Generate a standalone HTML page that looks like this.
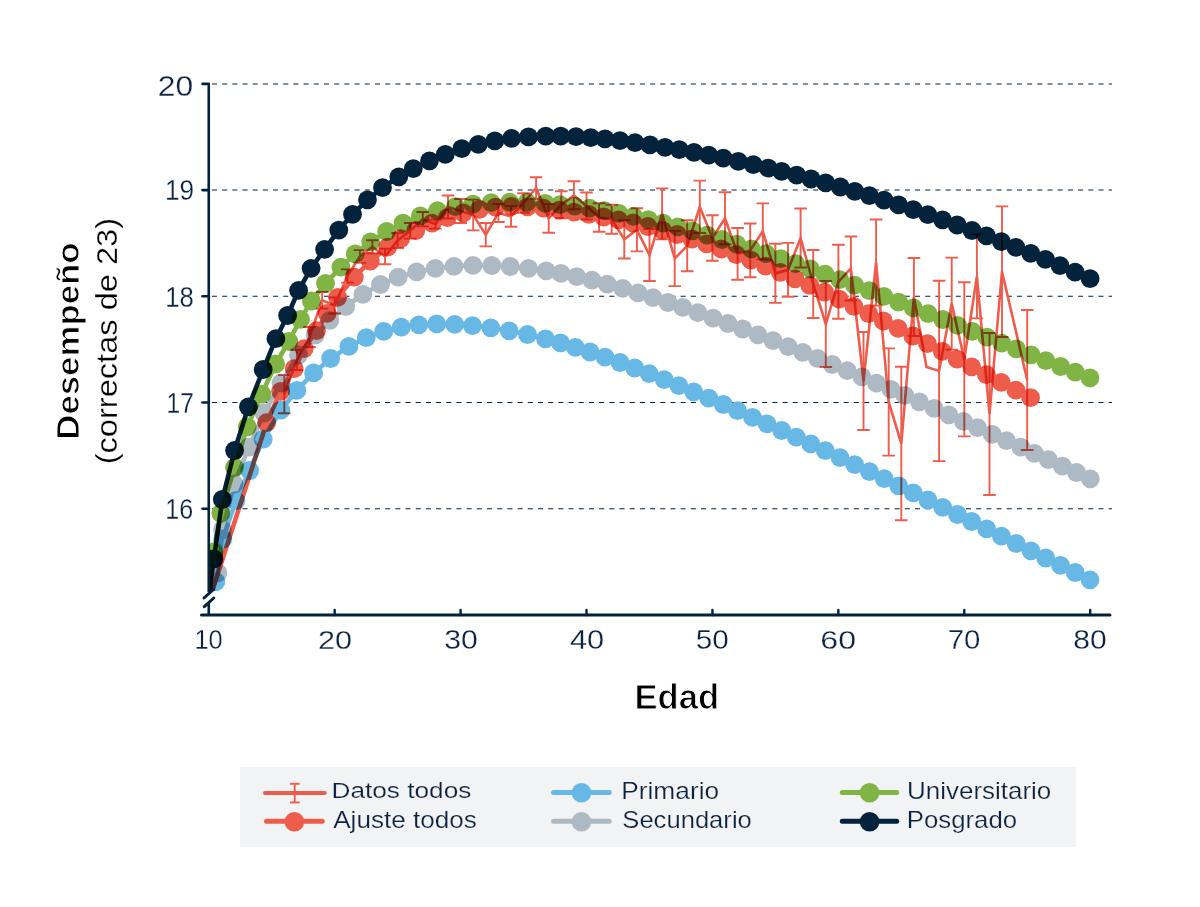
<!DOCTYPE html><html><head><meta charset="utf-8"><style>html,body{margin:0;padding:0;background:#fff;}svg{display:block;}text{font-family:"Liberation Sans",sans-serif;}.m{mix-blend-mode:multiply;}</style></head><body>
<svg width="1200" height="907" viewBox="0 0 1200 907">
<rect width="1200" height="907" fill="#fff"/>
<line x1="211.9" y1="84.00" x2="1112" y2="84.00" stroke="#03223c" stroke-width="1.05" stroke-dasharray="5.05 5.14"/>
<line x1="211.9" y1="190.00" x2="1112" y2="190.00" stroke="#03223c" stroke-width="1.05" stroke-dasharray="5.05 5.14"/>
<line x1="211.9" y1="296.25" x2="1112" y2="296.25" stroke="#03223c" stroke-width="1.05" stroke-dasharray="5.05 5.14"/>
<line x1="211.9" y1="402.50" x2="1112" y2="402.50" stroke="#03223c" stroke-width="1.05" stroke-dasharray="5.05 5.14"/>
<line x1="211.9" y1="508.70" x2="1112" y2="508.70" stroke="#03223c" stroke-width="1.05" stroke-dasharray="5.05 5.14"/>
<defs><clipPath id="pc"><rect x="210" y="0" width="990" height="591"/></clipPath></defs>
<g clip-path="url(#pc)">
<g class="m">
<polyline fill="none" stroke="#adb9c3" stroke-width="4.6" stroke-linejoin="round" points="208.8,600.0 217.9,572.8 222.5,530.0 234.0,484.0 249.0,447.0 264.0,413.0 281.0,383.0 298.5,355.0 315.2,335.2 329.8,320.4 345.7,306.5 362.9,294.3 380.5,284.5 398.2,277.2 416.6,271.9 435.3,268.3 454.0,266.3 473.0,265.4 491.8,265.5 510.2,266.5 528.5,268.4 546.2,270.9 561.0,273.4 576.7,276.6 592.0,280.2 607.3,284.1 622.7,288.4 638.0,292.9 653.0,297.6 668.0,302.5 682.8,307.4 697.8,312.7 713.0,318.1 728.0,323.5 742.7,329.0 757.9,334.8 773.0,340.6 788.2,346.6 802.8,352.4 817.5,358.4 832.2,364.5 847.2,370.7 861.9,376.9 876.5,383.2 891.0,389.4 904.8,395.4 919.4,401.8 934.1,408.3 948.8,414.8 963.4,421.3 977.5,427.7 992.2,434.3 1006.5,440.7 1020.8,447.2 1034.4,453.4 1048.3,459.7 1062.4,466.1 1076.5,472.5 1090.3,478.8"/>
<circle cx="217.9" cy="572.8" r="9.4" fill="#adb9c3"/>
<circle cx="222.5" cy="530.0" r="9.4" fill="#adb9c3"/>
<circle cx="234.0" cy="484.0" r="9.4" fill="#adb9c3"/>
<circle cx="249.0" cy="447.0" r="9.4" fill="#adb9c3"/>
<circle cx="264.0" cy="413.0" r="9.4" fill="#adb9c3"/>
<circle cx="281.0" cy="383.0" r="9.4" fill="#adb9c3"/>
<circle cx="298.5" cy="355.0" r="9.4" fill="#adb9c3"/>
<circle cx="315.2" cy="335.2" r="9.4" fill="#adb9c3"/>
<circle cx="329.8" cy="320.4" r="9.4" fill="#adb9c3"/>
<circle cx="345.7" cy="306.5" r="9.4" fill="#adb9c3"/>
<circle cx="362.9" cy="294.3" r="9.4" fill="#adb9c3"/>
<circle cx="380.5" cy="284.5" r="9.4" fill="#adb9c3"/>
<circle cx="398.2" cy="277.2" r="9.4" fill="#adb9c3"/>
<circle cx="416.6" cy="271.9" r="9.4" fill="#adb9c3"/>
<circle cx="435.3" cy="268.3" r="9.4" fill="#adb9c3"/>
<circle cx="454.0" cy="266.3" r="9.4" fill="#adb9c3"/>
<circle cx="473.0" cy="265.4" r="9.4" fill="#adb9c3"/>
<circle cx="491.8" cy="265.5" r="9.4" fill="#adb9c3"/>
<circle cx="510.2" cy="266.5" r="9.4" fill="#adb9c3"/>
<circle cx="528.5" cy="268.4" r="9.4" fill="#adb9c3"/>
<circle cx="546.2" cy="270.9" r="9.4" fill="#adb9c3"/>
<circle cx="561.0" cy="273.4" r="9.4" fill="#adb9c3"/>
<circle cx="576.7" cy="276.6" r="9.4" fill="#adb9c3"/>
<circle cx="592.0" cy="280.2" r="9.4" fill="#adb9c3"/>
<circle cx="607.3" cy="284.1" r="9.4" fill="#adb9c3"/>
<circle cx="622.7" cy="288.4" r="9.4" fill="#adb9c3"/>
<circle cx="638.0" cy="292.9" r="9.4" fill="#adb9c3"/>
<circle cx="653.0" cy="297.6" r="9.4" fill="#adb9c3"/>
<circle cx="668.0" cy="302.5" r="9.4" fill="#adb9c3"/>
<circle cx="682.8" cy="307.4" r="9.4" fill="#adb9c3"/>
<circle cx="697.8" cy="312.7" r="9.4" fill="#adb9c3"/>
<circle cx="713.0" cy="318.1" r="9.4" fill="#adb9c3"/>
<circle cx="728.0" cy="323.5" r="9.4" fill="#adb9c3"/>
<circle cx="742.7" cy="329.0" r="9.4" fill="#adb9c3"/>
<circle cx="757.9" cy="334.8" r="9.4" fill="#adb9c3"/>
<circle cx="773.0" cy="340.6" r="9.4" fill="#adb9c3"/>
<circle cx="788.2" cy="346.6" r="9.4" fill="#adb9c3"/>
<circle cx="802.8" cy="352.4" r="9.4" fill="#adb9c3"/>
<circle cx="817.5" cy="358.4" r="9.4" fill="#adb9c3"/>
<circle cx="832.2" cy="364.5" r="9.4" fill="#adb9c3"/>
<circle cx="847.2" cy="370.7" r="9.4" fill="#adb9c3"/>
<circle cx="861.9" cy="376.9" r="9.4" fill="#adb9c3"/>
<circle cx="876.5" cy="383.2" r="9.4" fill="#adb9c3"/>
<circle cx="891.0" cy="389.4" r="9.4" fill="#adb9c3"/>
<circle cx="904.8" cy="395.4" r="9.4" fill="#adb9c3"/>
<circle cx="919.4" cy="401.8" r="9.4" fill="#adb9c3"/>
<circle cx="934.1" cy="408.3" r="9.4" fill="#adb9c3"/>
<circle cx="948.8" cy="414.8" r="9.4" fill="#adb9c3"/>
<circle cx="963.4" cy="421.3" r="9.4" fill="#adb9c3"/>
<circle cx="977.5" cy="427.7" r="9.4" fill="#adb9c3"/>
<circle cx="992.2" cy="434.3" r="9.4" fill="#adb9c3"/>
<circle cx="1006.5" cy="440.7" r="9.4" fill="#adb9c3"/>
<circle cx="1020.8" cy="447.2" r="9.4" fill="#adb9c3"/>
<circle cx="1034.4" cy="453.4" r="9.4" fill="#adb9c3"/>
<circle cx="1048.3" cy="459.7" r="9.4" fill="#adb9c3"/>
<circle cx="1062.4" cy="466.1" r="9.4" fill="#adb9c3"/>
<circle cx="1076.5" cy="472.5" r="9.4" fill="#adb9c3"/>
<circle cx="1090.3" cy="478.8" r="9.4" fill="#adb9c3"/>
</g>
<g class="m">
<polyline fill="none" stroke="#68b8e6" stroke-width="4.6" stroke-linejoin="round" points="208.8,606.0 215.9,581.7 222.8,539.0 235.9,500.6 249.6,470.5 263.2,439.2 280.8,410.2 296.8,390.3 313.6,372.9 330.6,358.5 348.9,346.4 366.3,337.7 383.7,331.4 401.3,327.2 418.8,324.8 436.7,323.9 454.7,324.3 472.5,325.6 490.8,327.8 509.2,330.8 527.5,334.5 545.5,338.9 560.5,342.9 575.3,347.3 590.0,352.0 605.0,357.1 620.0,362.5 634.7,368.0 649.2,373.6 664.2,379.6 678.8,385.6 693.7,391.8 708.7,398.2 723.3,404.5 737.5,410.7 752.5,417.3 767.0,423.8 781.7,430.5 796.3,437.2 810.8,443.9 825.3,450.7 840.0,457.6 854.7,464.6 869.5,471.7 884.2,478.7 898.7,485.8 913.3,492.9 927.9,500.0 942.7,507.3 957.5,514.5 971.7,521.5 986.7,528.9 1001.4,536.2 1016.2,543.5 1031.0,550.8 1045.7,558.0 1060.5,565.3 1075.2,572.5 1090.0,579.8"/>
<circle cx="215.9" cy="581.7" r="9.4" fill="#68b8e6"/>
<circle cx="222.8" cy="539.0" r="9.4" fill="#68b8e6"/>
<circle cx="235.9" cy="500.6" r="9.4" fill="#68b8e6"/>
<circle cx="249.6" cy="470.5" r="9.4" fill="#68b8e6"/>
<circle cx="263.2" cy="439.2" r="9.4" fill="#68b8e6"/>
<circle cx="280.8" cy="410.2" r="9.4" fill="#68b8e6"/>
<circle cx="296.8" cy="390.3" r="9.4" fill="#68b8e6"/>
<circle cx="313.6" cy="372.9" r="9.4" fill="#68b8e6"/>
<circle cx="330.6" cy="358.5" r="9.4" fill="#68b8e6"/>
<circle cx="348.9" cy="346.4" r="9.4" fill="#68b8e6"/>
<circle cx="366.3" cy="337.7" r="9.4" fill="#68b8e6"/>
<circle cx="383.7" cy="331.4" r="9.4" fill="#68b8e6"/>
<circle cx="401.3" cy="327.2" r="9.4" fill="#68b8e6"/>
<circle cx="418.8" cy="324.8" r="9.4" fill="#68b8e6"/>
<circle cx="436.7" cy="323.9" r="9.4" fill="#68b8e6"/>
<circle cx="454.7" cy="324.3" r="9.4" fill="#68b8e6"/>
<circle cx="472.5" cy="325.6" r="9.4" fill="#68b8e6"/>
<circle cx="490.8" cy="327.8" r="9.4" fill="#68b8e6"/>
<circle cx="509.2" cy="330.8" r="9.4" fill="#68b8e6"/>
<circle cx="527.5" cy="334.5" r="9.4" fill="#68b8e6"/>
<circle cx="545.5" cy="338.9" r="9.4" fill="#68b8e6"/>
<circle cx="560.5" cy="342.9" r="9.4" fill="#68b8e6"/>
<circle cx="575.3" cy="347.3" r="9.4" fill="#68b8e6"/>
<circle cx="590.0" cy="352.0" r="9.4" fill="#68b8e6"/>
<circle cx="605.0" cy="357.1" r="9.4" fill="#68b8e6"/>
<circle cx="620.0" cy="362.5" r="9.4" fill="#68b8e6"/>
<circle cx="634.7" cy="368.0" r="9.4" fill="#68b8e6"/>
<circle cx="649.2" cy="373.6" r="9.4" fill="#68b8e6"/>
<circle cx="664.2" cy="379.6" r="9.4" fill="#68b8e6"/>
<circle cx="678.8" cy="385.6" r="9.4" fill="#68b8e6"/>
<circle cx="693.7" cy="391.8" r="9.4" fill="#68b8e6"/>
<circle cx="708.7" cy="398.2" r="9.4" fill="#68b8e6"/>
<circle cx="723.3" cy="404.5" r="9.4" fill="#68b8e6"/>
<circle cx="737.5" cy="410.7" r="9.4" fill="#68b8e6"/>
<circle cx="752.5" cy="417.3" r="9.4" fill="#68b8e6"/>
<circle cx="767.0" cy="423.8" r="9.4" fill="#68b8e6"/>
<circle cx="781.7" cy="430.5" r="9.4" fill="#68b8e6"/>
<circle cx="796.3" cy="437.2" r="9.4" fill="#68b8e6"/>
<circle cx="810.8" cy="443.9" r="9.4" fill="#68b8e6"/>
<circle cx="825.3" cy="450.7" r="9.4" fill="#68b8e6"/>
<circle cx="840.0" cy="457.6" r="9.4" fill="#68b8e6"/>
<circle cx="854.7" cy="464.6" r="9.4" fill="#68b8e6"/>
<circle cx="869.5" cy="471.7" r="9.4" fill="#68b8e6"/>
<circle cx="884.2" cy="478.7" r="9.4" fill="#68b8e6"/>
<circle cx="898.7" cy="485.8" r="9.4" fill="#68b8e6"/>
<circle cx="913.3" cy="492.9" r="9.4" fill="#68b8e6"/>
<circle cx="927.9" cy="500.0" r="9.4" fill="#68b8e6"/>
<circle cx="942.7" cy="507.3" r="9.4" fill="#68b8e6"/>
<circle cx="957.5" cy="514.5" r="9.4" fill="#68b8e6"/>
<circle cx="971.7" cy="521.5" r="9.4" fill="#68b8e6"/>
<circle cx="986.7" cy="528.9" r="9.4" fill="#68b8e6"/>
<circle cx="1001.4" cy="536.2" r="9.4" fill="#68b8e6"/>
<circle cx="1016.2" cy="543.5" r="9.4" fill="#68b8e6"/>
<circle cx="1031.0" cy="550.8" r="9.4" fill="#68b8e6"/>
<circle cx="1045.7" cy="558.0" r="9.4" fill="#68b8e6"/>
<circle cx="1060.5" cy="565.3" r="9.4" fill="#68b8e6"/>
<circle cx="1075.2" cy="572.5" r="9.4" fill="#68b8e6"/>
<circle cx="1090.0" cy="579.8" r="9.4" fill="#68b8e6"/>
</g>
<g class="m">
<polyline fill="none" stroke="#80b444" stroke-width="4.6" stroke-linejoin="round" points="208.8,590.0 214.0,552.0 220.8,513.3 234.5,467.5 247.2,426.8 261.8,394.1 275.6,364.0 288.8,341.5 300.5,319.4 311.4,301.0 325.5,283.4 340.9,267.1 355.2,253.8 370.6,241.8 386.7,231.5 403.0,223.1 420.3,215.9 437.5,210.6 455.5,206.6 472.9,204.1 491.2,202.6 509.6,202.1 527.0,202.4 545.3,203.3 560.0,204.6 574.7,206.2 589.5,208.2 604.2,210.6 618.9,213.3 633.6,216.3 648.4,219.6 663.1,223.1 677.8,226.9 692.5,230.9 707.2,235.1 722.0,239.5 736.7,244.1 751.4,248.8 766.1,253.6 780.8,258.6 795.6,263.7 810.3,268.9 825.0,274.2 839.7,279.7 854.5,285.2 869.2,290.7 883.9,296.4 898.6,302.1 913.3,307.9 928.1,313.7 942.8,319.5 957.5,325.4 972.2,331.3 986.9,337.2 1001.7,343.1 1016.4,348.9 1031.1,354.8 1045.8,360.7 1060.6,366.5 1075.3,372.2 1090.0,377.9"/>
<circle cx="214.0" cy="552.0" r="9.4" fill="#80b444"/>
<circle cx="220.8" cy="513.3" r="9.4" fill="#80b444"/>
<circle cx="234.5" cy="467.5" r="9.4" fill="#80b444"/>
<circle cx="247.2" cy="426.8" r="9.4" fill="#80b444"/>
<circle cx="261.8" cy="394.1" r="9.4" fill="#80b444"/>
<circle cx="275.6" cy="364.0" r="9.4" fill="#80b444"/>
<circle cx="288.8" cy="341.5" r="9.4" fill="#80b444"/>
<circle cx="300.5" cy="319.4" r="9.4" fill="#80b444"/>
<circle cx="311.4" cy="301.0" r="9.4" fill="#80b444"/>
<circle cx="325.5" cy="283.4" r="9.4" fill="#80b444"/>
<circle cx="340.9" cy="267.1" r="9.4" fill="#80b444"/>
<circle cx="355.2" cy="253.8" r="9.4" fill="#80b444"/>
<circle cx="370.6" cy="241.8" r="9.4" fill="#80b444"/>
<circle cx="386.7" cy="231.5" r="9.4" fill="#80b444"/>
<circle cx="403.0" cy="223.1" r="9.4" fill="#80b444"/>
<circle cx="420.3" cy="215.9" r="9.4" fill="#80b444"/>
<circle cx="437.5" cy="210.6" r="9.4" fill="#80b444"/>
<circle cx="455.5" cy="206.6" r="9.4" fill="#80b444"/>
<circle cx="472.9" cy="204.1" r="9.4" fill="#80b444"/>
<circle cx="491.2" cy="202.6" r="9.4" fill="#80b444"/>
<circle cx="509.6" cy="202.1" r="9.4" fill="#80b444"/>
<circle cx="527.0" cy="202.4" r="9.4" fill="#80b444"/>
<circle cx="545.3" cy="203.3" r="9.4" fill="#80b444"/>
<circle cx="560.0" cy="204.6" r="9.4" fill="#80b444"/>
<circle cx="574.7" cy="206.2" r="9.4" fill="#80b444"/>
<circle cx="589.5" cy="208.2" r="9.4" fill="#80b444"/>
<circle cx="604.2" cy="210.6" r="9.4" fill="#80b444"/>
<circle cx="618.9" cy="213.3" r="9.4" fill="#80b444"/>
<circle cx="633.6" cy="216.3" r="9.4" fill="#80b444"/>
<circle cx="648.4" cy="219.6" r="9.4" fill="#80b444"/>
<circle cx="663.1" cy="223.1" r="9.4" fill="#80b444"/>
<circle cx="677.8" cy="226.9" r="9.4" fill="#80b444"/>
<circle cx="692.5" cy="230.9" r="9.4" fill="#80b444"/>
<circle cx="707.2" cy="235.1" r="9.4" fill="#80b444"/>
<circle cx="722.0" cy="239.5" r="9.4" fill="#80b444"/>
<circle cx="736.7" cy="244.1" r="9.4" fill="#80b444"/>
<circle cx="751.4" cy="248.8" r="9.4" fill="#80b444"/>
<circle cx="766.1" cy="253.6" r="9.4" fill="#80b444"/>
<circle cx="780.8" cy="258.6" r="9.4" fill="#80b444"/>
<circle cx="795.6" cy="263.7" r="9.4" fill="#80b444"/>
<circle cx="810.3" cy="268.9" r="9.4" fill="#80b444"/>
<circle cx="825.0" cy="274.2" r="9.4" fill="#80b444"/>
<circle cx="839.7" cy="279.7" r="9.4" fill="#80b444"/>
<circle cx="854.5" cy="285.2" r="9.4" fill="#80b444"/>
<circle cx="869.2" cy="290.7" r="9.4" fill="#80b444"/>
<circle cx="883.9" cy="296.4" r="9.4" fill="#80b444"/>
<circle cx="898.6" cy="302.1" r="9.4" fill="#80b444"/>
<circle cx="913.3" cy="307.9" r="9.4" fill="#80b444"/>
<circle cx="928.1" cy="313.7" r="9.4" fill="#80b444"/>
<circle cx="942.8" cy="319.5" r="9.4" fill="#80b444"/>
<circle cx="957.5" cy="325.4" r="9.4" fill="#80b444"/>
<circle cx="972.2" cy="331.3" r="9.4" fill="#80b444"/>
<circle cx="986.9" cy="337.2" r="9.4" fill="#80b444"/>
<circle cx="1001.7" cy="343.1" r="9.4" fill="#80b444"/>
<circle cx="1016.4" cy="348.9" r="9.4" fill="#80b444"/>
<circle cx="1031.1" cy="354.8" r="9.4" fill="#80b444"/>
<circle cx="1045.8" cy="360.7" r="9.4" fill="#80b444"/>
<circle cx="1060.6" cy="366.5" r="9.4" fill="#80b444"/>
<circle cx="1075.3" cy="372.2" r="9.4" fill="#80b444"/>
<circle cx="1090.0" cy="377.9" r="9.4" fill="#80b444"/>
</g>
<g class="m">
<polyline fill="none" stroke="#ee5c4c" stroke-width="4.6" stroke-linejoin="round" points="209.0,601.0 266.7,422.6 280.6,391.4 294.2,368.7 304.2,348.6 316.5,330.6 327.1,313.3 337.7,297.3 354.3,277.1 370.3,261.1 387.7,247.1 400.7,238.6 415.8,230.5 432.1,223.2 447.3,217.6 463.4,212.8 479.5,209.3 495.5,207.1 511.5,206.3 527.5,206.8 543.5,208.2 559.5,210.1 574.2,212.1 588.9,214.4 603.7,217.0 618.4,219.8 633.1,223.0 647.8,226.5 662.6,230.3 677.3,234.5 692.0,239.0 706.7,243.9 721.4,249.0 736.2,254.5 750.9,260.2 765.6,266.1 780.3,272.3 795.0,278.8 809.8,285.4 824.5,292.2 839.2,299.2 853.9,306.3 868.7,313.6 883.4,321.0 898.1,328.4 912.8,336.0 927.5,343.7 942.3,351.4 957.0,359.1 971.7,366.9 986.4,374.6 1001.2,382.4 1015.9,390.1 1030.6,397.7"/>
<circle cx="266.7" cy="422.6" r="9.4" fill="#ee5c4c"/>
<circle cx="280.6" cy="391.4" r="9.4" fill="#ee5c4c"/>
<circle cx="294.2" cy="368.7" r="9.4" fill="#ee5c4c"/>
<circle cx="304.2" cy="348.6" r="9.4" fill="#ee5c4c"/>
<circle cx="316.5" cy="330.6" r="9.4" fill="#ee5c4c"/>
<circle cx="327.1" cy="313.3" r="9.4" fill="#ee5c4c"/>
<circle cx="337.7" cy="297.3" r="9.4" fill="#ee5c4c"/>
<circle cx="354.3" cy="277.1" r="9.4" fill="#ee5c4c"/>
<circle cx="370.3" cy="261.1" r="9.4" fill="#ee5c4c"/>
<circle cx="387.7" cy="247.1" r="9.4" fill="#ee5c4c"/>
<circle cx="400.7" cy="238.6" r="9.4" fill="#ee5c4c"/>
<circle cx="415.8" cy="230.5" r="9.4" fill="#ee5c4c"/>
<circle cx="432.1" cy="223.2" r="9.4" fill="#ee5c4c"/>
<circle cx="447.3" cy="217.6" r="9.4" fill="#ee5c4c"/>
<circle cx="463.4" cy="212.8" r="9.4" fill="#ee5c4c"/>
<circle cx="479.5" cy="209.3" r="9.4" fill="#ee5c4c"/>
<circle cx="495.5" cy="207.1" r="9.4" fill="#ee5c4c"/>
<circle cx="511.5" cy="206.3" r="9.4" fill="#ee5c4c"/>
<circle cx="527.5" cy="206.8" r="9.4" fill="#ee5c4c"/>
<circle cx="543.5" cy="208.2" r="9.4" fill="#ee5c4c"/>
<circle cx="559.5" cy="210.1" r="9.4" fill="#ee5c4c"/>
<circle cx="574.2" cy="212.1" r="9.4" fill="#ee5c4c"/>
<circle cx="588.9" cy="214.4" r="9.4" fill="#ee5c4c"/>
<circle cx="603.7" cy="217.0" r="9.4" fill="#ee5c4c"/>
<circle cx="618.4" cy="219.8" r="9.4" fill="#ee5c4c"/>
<circle cx="633.1" cy="223.0" r="9.4" fill="#ee5c4c"/>
<circle cx="647.8" cy="226.5" r="9.4" fill="#ee5c4c"/>
<circle cx="662.6" cy="230.3" r="9.4" fill="#ee5c4c"/>
<circle cx="677.3" cy="234.5" r="9.4" fill="#ee5c4c"/>
<circle cx="692.0" cy="239.0" r="9.4" fill="#ee5c4c"/>
<circle cx="706.7" cy="243.9" r="9.4" fill="#ee5c4c"/>
<circle cx="721.4" cy="249.0" r="9.4" fill="#ee5c4c"/>
<circle cx="736.2" cy="254.5" r="9.4" fill="#ee5c4c"/>
<circle cx="750.9" cy="260.2" r="9.4" fill="#ee5c4c"/>
<circle cx="765.6" cy="266.1" r="9.4" fill="#ee5c4c"/>
<circle cx="780.3" cy="272.3" r="9.4" fill="#ee5c4c"/>
<circle cx="795.0" cy="278.8" r="9.4" fill="#ee5c4c"/>
<circle cx="809.8" cy="285.4" r="9.4" fill="#ee5c4c"/>
<circle cx="824.5" cy="292.2" r="9.4" fill="#ee5c4c"/>
<circle cx="839.2" cy="299.2" r="9.4" fill="#ee5c4c"/>
<circle cx="853.9" cy="306.3" r="9.4" fill="#ee5c4c"/>
<circle cx="868.7" cy="313.6" r="9.4" fill="#ee5c4c"/>
<circle cx="883.4" cy="321.0" r="9.4" fill="#ee5c4c"/>
<circle cx="898.1" cy="328.4" r="9.4" fill="#ee5c4c"/>
<circle cx="912.8" cy="336.0" r="9.4" fill="#ee5c4c"/>
<circle cx="927.5" cy="343.7" r="9.4" fill="#ee5c4c"/>
<circle cx="942.3" cy="351.4" r="9.4" fill="#ee5c4c"/>
<circle cx="957.0" cy="359.1" r="9.4" fill="#ee5c4c"/>
<circle cx="971.7" cy="366.9" r="9.4" fill="#ee5c4c"/>
<circle cx="986.4" cy="374.6" r="9.4" fill="#ee5c4c"/>
<circle cx="1001.2" cy="382.4" r="9.4" fill="#ee5c4c"/>
<circle cx="1015.9" cy="390.1" r="9.4" fill="#ee5c4c"/>
<circle cx="1030.6" cy="397.7" r="9.4" fill="#ee5c4c"/>
</g>
<g class="m">
<polyline fill="none" stroke="#03223c" stroke-width="4.6" stroke-linejoin="round" points="208.8,596.0 213.9,558.9 222.3,499.5 234.6,450.5 248.4,406.8 263.2,369.5 275.9,338.7 287.6,315.5 298.6,290.3 311.1,268.3 324.6,249.3 338.8,230.1 352.5,214.3 367.5,199.8 382.5,187.7 398.8,176.8 413.3,168.6 429.5,160.8 445.3,154.3 461.8,148.7 478.3,144.3 494.8,140.9 511.6,138.4 528.5,136.9 545.7,136.1 560.7,136.1 576.0,136.7 590.7,137.6 605.0,138.9 620.0,140.7 635.0,142.7 650.0,144.9 665.0,147.3 679.3,149.7 694.0,152.4 708.7,155.2 723.3,158.1 738.3,161.3 753.3,164.7 768.3,168.1 781.7,171.4 796.7,175.2 811.1,179.0 825.7,182.9 840.3,187.0 854.8,191.3 869.4,195.7 884.0,200.2 898.6,204.9 913.2,209.7 927.8,214.7 942.5,219.8 957.2,225.0 972.0,230.5 986.5,235.9 1001.4,241.7 1015.9,247.4 1030.7,253.4 1045.4,259.4 1060.0,265.6 1075.1,272.1 1090.1,278.7"/>
<circle cx="213.9" cy="558.9" r="9.4" fill="#03223c"/>
<circle cx="222.3" cy="499.5" r="9.4" fill="#03223c"/>
<circle cx="234.6" cy="450.5" r="9.4" fill="#03223c"/>
<circle cx="248.4" cy="406.8" r="9.4" fill="#03223c"/>
<circle cx="263.2" cy="369.5" r="9.4" fill="#03223c"/>
<circle cx="275.9" cy="338.7" r="9.4" fill="#03223c"/>
<circle cx="287.6" cy="315.5" r="9.4" fill="#03223c"/>
<circle cx="298.6" cy="290.3" r="9.4" fill="#03223c"/>
<circle cx="311.1" cy="268.3" r="9.4" fill="#03223c"/>
<circle cx="324.6" cy="249.3" r="9.4" fill="#03223c"/>
<circle cx="338.8" cy="230.1" r="9.4" fill="#03223c"/>
<circle cx="352.5" cy="214.3" r="9.4" fill="#03223c"/>
<circle cx="367.5" cy="199.8" r="9.4" fill="#03223c"/>
<circle cx="382.5" cy="187.7" r="9.4" fill="#03223c"/>
<circle cx="398.8" cy="176.8" r="9.4" fill="#03223c"/>
<circle cx="413.3" cy="168.6" r="9.4" fill="#03223c"/>
<circle cx="429.5" cy="160.8" r="9.4" fill="#03223c"/>
<circle cx="445.3" cy="154.3" r="9.4" fill="#03223c"/>
<circle cx="461.8" cy="148.7" r="9.4" fill="#03223c"/>
<circle cx="478.3" cy="144.3" r="9.4" fill="#03223c"/>
<circle cx="494.8" cy="140.9" r="9.4" fill="#03223c"/>
<circle cx="511.6" cy="138.4" r="9.4" fill="#03223c"/>
<circle cx="528.5" cy="136.9" r="9.4" fill="#03223c"/>
<circle cx="545.7" cy="136.1" r="9.4" fill="#03223c"/>
<circle cx="560.7" cy="136.1" r="9.4" fill="#03223c"/>
<circle cx="576.0" cy="136.7" r="9.4" fill="#03223c"/>
<circle cx="590.7" cy="137.6" r="9.4" fill="#03223c"/>
<circle cx="605.0" cy="138.9" r="9.4" fill="#03223c"/>
<circle cx="620.0" cy="140.7" r="9.4" fill="#03223c"/>
<circle cx="635.0" cy="142.7" r="9.4" fill="#03223c"/>
<circle cx="650.0" cy="144.9" r="9.4" fill="#03223c"/>
<circle cx="665.0" cy="147.3" r="9.4" fill="#03223c"/>
<circle cx="679.3" cy="149.7" r="9.4" fill="#03223c"/>
<circle cx="694.0" cy="152.4" r="9.4" fill="#03223c"/>
<circle cx="708.7" cy="155.2" r="9.4" fill="#03223c"/>
<circle cx="723.3" cy="158.1" r="9.4" fill="#03223c"/>
<circle cx="738.3" cy="161.3" r="9.4" fill="#03223c"/>
<circle cx="753.3" cy="164.7" r="9.4" fill="#03223c"/>
<circle cx="768.3" cy="168.1" r="9.4" fill="#03223c"/>
<circle cx="781.7" cy="171.4" r="9.4" fill="#03223c"/>
<circle cx="796.7" cy="175.2" r="9.4" fill="#03223c"/>
<circle cx="811.1" cy="179.0" r="9.4" fill="#03223c"/>
<circle cx="825.7" cy="182.9" r="9.4" fill="#03223c"/>
<circle cx="840.3" cy="187.0" r="9.4" fill="#03223c"/>
<circle cx="854.8" cy="191.3" r="9.4" fill="#03223c"/>
<circle cx="869.4" cy="195.7" r="9.4" fill="#03223c"/>
<circle cx="884.0" cy="200.2" r="9.4" fill="#03223c"/>
<circle cx="898.6" cy="204.9" r="9.4" fill="#03223c"/>
<circle cx="913.2" cy="209.7" r="9.4" fill="#03223c"/>
<circle cx="927.8" cy="214.7" r="9.4" fill="#03223c"/>
<circle cx="942.5" cy="219.8" r="9.4" fill="#03223c"/>
<circle cx="957.2" cy="225.0" r="9.4" fill="#03223c"/>
<circle cx="972.0" cy="230.5" r="9.4" fill="#03223c"/>
<circle cx="986.5" cy="235.9" r="9.4" fill="#03223c"/>
<circle cx="1001.4" cy="241.7" r="9.4" fill="#03223c"/>
<circle cx="1015.9" cy="247.4" r="9.4" fill="#03223c"/>
<circle cx="1030.7" cy="253.4" r="9.4" fill="#03223c"/>
<circle cx="1045.4" cy="259.4" r="9.4" fill="#03223c"/>
<circle cx="1060.0" cy="265.6" r="9.4" fill="#03223c"/>
<circle cx="1075.1" cy="272.1" r="9.4" fill="#03223c"/>
<circle cx="1090.1" cy="278.7" r="9.4" fill="#03223c"/>
</g>
<g class="m" stroke="#ee5c4c" fill="none">
<polyline stroke-width="2.6" stroke-linejoin="miter" points="284.3,394.2 296.9,360.0 309.5,337.0 322.1,300.3 334.7,305.5 347.3,276.0 359.9,256.5 372.4,246.8 385.0,256.5 397.6,240.5 410.2,230.8 422.8,219.2 435.4,224.2 448.0,207.0 460.6,211.0 473.2,215.0 485.8,234.7 498.4,213.0 511.0,216.4 523.5,203.0 536.1,188.0 548.7,218.4 561.3,204.8 573.9,195.3 586.5,206.0 599.1,217.5 611.7,219.2 624.3,239.4 636.9,229.8 649.5,255.0 662.1,213.9 674.7,258.5 687.2,245.8 699.8,206.8 712.4,238.0 725.0,218.2 737.6,253.9 750.2,250.4 762.8,231.4 775.4,273.3 788.0,269.8 800.6,238.0 813.2,284.0 825.8,324.0 838.4,281.7 850.9,268.5 863.5,381.0 876.1,262.5 888.7,402.0 901.3,443.5 913.9,297.0 926.5,367.0 939.1,370.9 951.7,303.6 964.3,359.3 976.9,276.4 989.5,414.0 1002.0,271.7 1014.6,325.5 1027.2,380.0"/>
<path stroke-width="1.9" d="M284.3 375.1V413.3M278.0 375.1h12.6M278.0 413.3h12.6M296.9 350.0V370.0M290.6 350.0h12.6M290.6 370.0h12.6M309.5 327.0V347.0M303.2 327.0h12.6M303.2 347.0h12.6M322.1 292.0V308.6M315.8 292.0h12.6M315.8 308.6h12.6M334.7 297.5V313.5M328.4 297.5h12.6M328.4 313.5h12.6M347.3 269.4V282.6M341.0 269.4h12.6M341.0 282.6h12.6M359.9 250.1V262.9M353.6 250.1h12.6M353.6 262.9h12.6M372.4 240.2V253.4M366.1 240.2h12.6M366.1 253.4h12.6M385.0 248.7V264.3M378.7 248.7h12.6M378.7 264.3h12.6M397.6 233.0V248.0M391.3 233.0h12.6M391.3 248.0h12.6M410.2 223.0V238.6M403.9 223.0h12.6M403.9 238.6h12.6M422.8 212.0V226.4M416.5 212.0h12.6M416.5 226.4h12.6M435.4 219.8V228.6M429.1 219.8h12.6M429.1 228.6h12.6M448.0 195.5V218.5M441.7 195.5h12.6M441.7 218.5h12.6M460.6 199.0V223.0M454.3 199.0h12.6M454.3 223.0h12.6M473.2 199.6V230.4M466.9 199.6h12.6M466.9 230.4h12.6M485.8 223.0V246.4M479.5 223.0h12.6M479.5 246.4h12.6M498.4 204.0V222.0M492.1 204.0h12.6M492.1 222.0h12.6M511.0 206.1V226.7M504.7 206.1h12.6M504.7 226.7h12.6M523.5 193.3V212.7M517.2 193.3h12.6M517.2 212.7h12.6M536.1 177.3V198.7M529.8 177.3h12.6M529.8 198.7h12.6M548.7 204.1V232.7M542.4 204.1h12.6M542.4 232.7h12.6M561.3 191.3V218.3M555.0 191.3h12.6M555.0 218.3h12.6M573.9 181.3V209.3M567.6 181.3h12.6M567.6 209.3h12.6M586.5 192.5V219.5M580.2 192.5h12.6M580.2 219.5h12.6M599.1 203.3V231.7M592.8 203.3h12.6M592.8 231.7h12.6M611.7 204.7V233.7M605.4 204.7h12.6M605.4 233.7h12.6M624.3 220.3V258.5M618.0 220.3h12.6M618.0 258.5h12.6M636.9 208.2V251.4M630.6 208.2h12.6M630.6 251.4h12.6M649.5 229.0V281.0M643.2 229.0h12.6M643.2 281.0h12.6M662.1 188.4V239.4M655.8 188.4h12.6M655.8 239.4h12.6M674.7 230.9V286.1M668.4 230.9h12.6M668.4 286.1h12.6M687.2 220.3V271.3M680.9 220.3h12.6M680.9 271.3h12.6M699.8 180.6V233.0M693.5 180.6h12.6M693.5 233.0h12.6M712.4 215.3V260.7M706.1 215.3h12.6M706.1 260.7h12.6M725.0 192.2V244.2M718.7 192.2h12.6M718.7 244.2h12.6M737.6 228.0V279.8M731.3 228.0h12.6M731.3 279.8h12.6M750.2 223.5V277.3M743.9 223.5h12.6M743.9 277.3h12.6M762.8 203.4V259.4M756.5 203.4h12.6M756.5 259.4h12.6M775.4 243.7V302.9M769.1 243.7h12.6M769.1 302.9h12.6M788.0 242.9V296.7M781.7 242.9h12.6M781.7 296.7h12.6M800.6 208.5V267.5M794.3 208.5h12.6M794.3 267.5h12.6M813.2 250.0V318.0M806.9 250.0h12.6M806.9 318.0h12.6M825.8 281.0V367.0M819.5 281.0h12.6M819.5 367.0h12.6M838.4 244.7V318.7M832.1 244.7h12.6M832.1 318.7h12.6M850.9 236.5V300.5M844.6 236.5h12.6M844.6 300.5h12.6M863.5 332.0V430.0M857.2 332.0h12.6M857.2 430.0h12.6M876.1 219.5V305.5M869.8 219.5h12.6M869.8 305.5h12.6M888.7 348.4V455.6M882.4 348.4h12.6M882.4 455.6h12.6M901.3 366.8V520.2M895.0 366.8h12.6M895.0 520.2h12.6M913.9 258.0V336.0M907.6 258.0h12.6M907.6 336.0h12.6M939.1 280.7V461.1M932.8 280.7h12.6M932.8 461.1h12.6M951.7 257.6V349.6M945.4 257.6h12.6M945.4 349.6h12.6M964.3 282.2V436.4M958.0 282.2h12.6M958.0 436.4h12.6M976.9 234.4V318.4M970.6 234.4h12.6M970.6 318.4h12.6M989.5 333.0V495.0M983.2 333.0h12.6M983.2 495.0h12.6M1002.0 206.4V337.0M995.7 206.4h12.6M995.7 337.0h12.6M1027.2 310.0V450.0M1020.9 310.0h12.6M1020.9 450.0h12.6"/>
</g>
</g>
<g stroke="#03223c" stroke-linecap="round" fill="none">
<line x1="208.75" y1="83.8" x2="208.75" y2="592" stroke-width="2.6" stroke-linecap="butt"/>
<line x1="208.75" y1="603" x2="208.75" y2="615" stroke-width="2.6" stroke-linecap="butt"/>
<line x1="201.5" y1="615" x2="1110" y2="615" stroke-width="3"/>
<line x1="202.5" y1="83.90" x2="208.75" y2="83.90" stroke-width="2.6"/>
<line x1="202.5" y1="190.10" x2="208.75" y2="190.10" stroke-width="2.6"/>
<line x1="202.5" y1="296.30" x2="208.75" y2="296.30" stroke-width="2.6"/>
<line x1="202.5" y1="402.50" x2="208.75" y2="402.50" stroke-width="2.6"/>
<line x1="202.5" y1="508.70" x2="208.75" y2="508.70" stroke-width="2.6"/>
<line x1="334.67" y1="610" x2="334.67" y2="615" stroke-width="2.4"/>
<line x1="460.59" y1="610" x2="460.59" y2="615" stroke-width="2.4"/>
<line x1="586.51" y1="610" x2="586.51" y2="615" stroke-width="2.4"/>
<line x1="712.43" y1="610" x2="712.43" y2="615" stroke-width="2.4"/>
<line x1="838.35" y1="610" x2="838.35" y2="615" stroke-width="2.4"/>
<line x1="964.27" y1="610" x2="964.27" y2="615" stroke-width="2.4"/>
<line x1="1090.19" y1="610" x2="1090.19" y2="615" stroke-width="2.4"/>
<line x1="204" y1="598" x2="213.5" y2="589.3" stroke-width="3"/>
<line x1="204.3" y1="606.7" x2="213.8" y2="598" stroke-width="3"/>
</g>
<rect x="240" y="767" width="836" height="80" fill="#f2f3f5"/>
<g stroke-linecap="round">
<line x1="265" y1="792.9" x2="324.7" y2="792.9" stroke="#ee5c4c" stroke-width="4"/>
<g stroke="#ee5c4c" stroke-width="1.9" stroke-linecap="butt"><line x1="294.7" y1="783.5" x2="294.7" y2="802.5"/><line x1="290" y1="783.8" x2="299.7" y2="783.8"/><line x1="290" y1="802.4" x2="299.7" y2="802.4"/></g>
<line x1="266.5" y1="821.2" x2="322.2" y2="821.2" stroke="#ee5c4c" stroke-width="5"/><circle cx="294.4" cy="821.7" r="9.8" fill="#ee5c4c"/>
<line x1="553.5" y1="792.5" x2="609.2" y2="792.5" stroke="#68b8e6" stroke-width="5"/><circle cx="581.5" cy="792.8" r="9.8" fill="#68b8e6"/>
<line x1="553.5" y1="821.2" x2="609.2" y2="821.2" stroke="#adb9c3" stroke-width="5"/><circle cx="581.5" cy="821.7" r="9.8" fill="#adb9c3"/>
<line x1="842.3" y1="792.5" x2="896.7" y2="792.5" stroke="#80b444" stroke-width="5"/><circle cx="869.6" cy="792.8" r="9.8" fill="#80b444"/>
<line x1="842.3" y1="821.2" x2="896.7" y2="821.2" stroke="#03223c" stroke-width="5"/><circle cx="869.6" cy="821.7" r="9.8" fill="#03223c"/>
</g>
<g transform="translate(159.20,75.40) scale(1.1386,1.0450) translate(-163.71,-75.12)"><text stroke="#fff" stroke-width="0.25" x="193.5" y="94.4" font-size="28" font-weight="normal" fill="#0c2340" text-anchor="end">20</text></g>
<g transform="translate(167.00,180.80) scale(0.9346,1.0663) translate(-164.50,-182.12)"><text stroke="#fff" stroke-width="0.25" x="193.5" y="200.60000000000002" font-size="28" font-weight="normal" fill="#0c2340" text-anchor="end">19</text></g>
<g transform="translate(167.30,286.90) scale(0.9175,1.0716) translate(-164.50,-288.12)"><text stroke="#fff" stroke-width="0.25" x="193.5" y="306.8" font-size="28" font-weight="normal" fill="#0c2340" text-anchor="end">18</text></g>
<g transform="translate(168.50,392.70) scale(0.8786,1.0663) translate(-164.50,-394.12)"><text stroke="#fff" stroke-width="0.25" x="193.5" y="413.0" font-size="28" font-weight="normal" fill="#0c2340" text-anchor="end">17</text></g>
<g transform="translate(167.10,498.30) scale(0.8969,1.0663) translate(-164.50,-500.12)"><text stroke="#fff" stroke-width="0.25" x="193.5" y="519.2" font-size="28" font-weight="normal" fill="#0c2340" text-anchor="end">16</text></g>
<g transform="translate(196.40,629.60) scale(0.9970,1.0538) translate(-196.55,-630.13)"><text stroke="#fff" stroke-width="0.25" x="208.75" y="648.2" font-size="25.5" font-weight="normal" fill="#0c2340" text-anchor="middle">10</text></g>
<g transform="translate(319.60,629.70) scale(1.2004,1.0475) translate(-321.80,-630.12)"><text stroke="#fff" stroke-width="0.25" x="334.67" y="648.2" font-size="25.5" font-weight="normal" fill="#0c2340" text-anchor="middle">20</text></g>
<g transform="translate(445.80,629.70) scale(1.1855,1.0475) translate(-447.72,-630.12)"><text stroke="#fff" stroke-width="0.25" x="460.59000000000003" y="648.2" font-size="25.5" font-weight="normal" fill="#0c2340" text-anchor="middle">30</text></g>
<g transform="translate(570.50,629.70) scale(1.2052,1.0482) translate(-572.82,-630.13)"><text stroke="#fff" stroke-width="0.25" x="586.51" y="648.2" font-size="25.5" font-weight="normal" fill="#0c2340" text-anchor="middle">40</text></g>
<g transform="translate(697.30,629.70) scale(1.1637,1.0475) translate(-699.57,-630.12)"><text stroke="#fff" stroke-width="0.25" x="712.4300000000001" y="648.2" font-size="25.5" font-weight="normal" fill="#0c2340" text-anchor="middle">50</text></g>
<g transform="translate(822.20,629.70) scale(1.2589,1.0475) translate(-825.64,-630.12)"><text stroke="#fff" stroke-width="0.25" x="838.35" y="648.2" font-size="25.5" font-weight="normal" fill="#0c2340" text-anchor="middle">60</text></g>
<g transform="translate(949.20,629.70) scale(1.1535,1.0475) translate(-951.44,-630.12)"><text stroke="#fff" stroke-width="0.25" x="964.27" y="648.2" font-size="25.5" font-weight="normal" fill="#0c2340" text-anchor="middle">70</text></g>
<g transform="translate(1074.30,629.70) scale(1.1809,1.0475) translate(-1076.95,-630.12)"><text stroke="#fff" stroke-width="0.25" x="1090.19" y="648.2" font-size="25.5" font-weight="normal" fill="#0c2340" text-anchor="middle">80</text></g>
<g transform="translate(636.50,684.30) scale(1.0513,1.0375) translate(-637.96,-685.00)"><text stroke="#fff" stroke-width="0.9" x="636" y="709" font-size="33" font-weight="bold" fill="#000" text-anchor="start">Edad</text></g>
<g transform="translate(55.50,243.80) scale(0.9696,1.0554) translate(-56.91,-251.82)"><text stroke="#fff" stroke-width="0.9" transform="translate(81,437.5) rotate(-90)" font-size="33" font-weight="bold" fill="#000" text-anchor="start">Desempeño</text></g>
<g transform="translate(94.91,220.00) scale(1.0000,1.1246) translate(-94.91,-245.24)"><text stroke="#fff" stroke-width="0.25" transform="translate(117,462.5) rotate(-90)" font-size="29" font-weight="normal" fill="#000" text-anchor="start">(correctas de 23)</text></g>
<g transform="translate(333.75,781.00) scale(1.1411,1.0000) translate(-335.50,-781.12)"><text stroke="#f2f3f5" stroke-width="0.2" x="333.5" y="798.5" font-size="23" font-weight="normal" fill="#0c2340" text-anchor="start">Datos todos</text></g>
<g transform="translate(333.50,810.40) scale(1.1355,1.0000) translate(-333.76,-810.13)"><text stroke="#f2f3f5" stroke-width="0.2" x="333.5" y="827.7" font-size="23" font-weight="normal" fill="#0c2340" text-anchor="start">Ajuste todos</text></g>
<g transform="translate(623.50,781.25) scale(1.1439,1.0000) translate(-625.50,-781.16)"><text stroke="#f2f3f5" stroke-width="0.2" x="623.5" y="798.5" font-size="23" font-weight="normal" fill="#0c2340" text-anchor="start">Primario</text></g>
<g transform="translate(623.75,810.25) scale(1.1133,1.0000) translate(-624.79,-810.12)"><text stroke="#f2f3f5" stroke-width="0.2" x="623.5" y="827.7" font-size="23" font-weight="normal" fill="#0c2340" text-anchor="start">Secundario</text></g>
<g transform="translate(908.70,781.30) scale(1.1299,1.0000) translate(-909.97,-781.12)"><text stroke="#f2f3f5" stroke-width="0.2" x="908.5" y="798.5" font-size="23" font-weight="normal" fill="#0c2340" text-anchor="start">Universitario</text></g>
<g transform="translate(909.00,810.70) scale(1.1212,1.0000) translate(-910.50,-810.12)"><text stroke="#f2f3f5" stroke-width="0.2" x="908.5" y="827.7" font-size="23" font-weight="normal" fill="#0c2340" text-anchor="start">Posgrado</text></g>
</svg></body></html>
